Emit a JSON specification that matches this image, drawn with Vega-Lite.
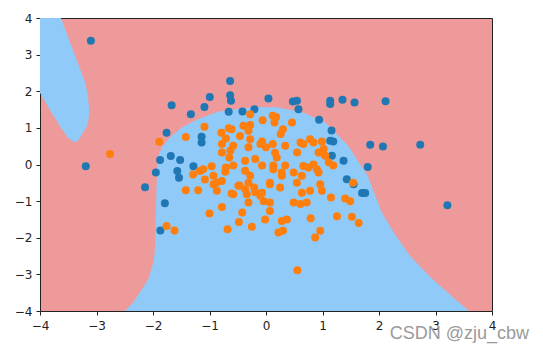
{
"$schema": "https://vega.github.io/schema/vega-lite/v6.json",
"width": 452,
"height": 293,
"autosize": {"type": "none"},
"padding": {"left": 40, "top": 18, "right": 51, "bottom": 40},
"background": "white",
"config": {
"view": {"fill": "#EF9A9A", "stroke": "#222", "strokeWidth": 1},
"axis": {"title": null, "grid": false, "domain": false, "format": "d", "labelOverlap": false, "tickColor": "#222", "tickSize": 4, "labelFont": "DejaVu Sans", "labelFontSize": 12, "labelColor": "#222", "labelFlush": false},
"axisX": {"labelPadding": 5},
"axisY": {"labelPadding": 4}
},
"title": {"text": "CSDN @zju_cbw", "orient": "bottom", "anchor": "end", "frame": "group", "color": "#9a9a9a", "fontSize": 18, "fontWeight": "normal", "font": "Liberation Sans", "dx": 37, "dy": -10},
"datasets": {
"central": [
{"x": -2.5, "yhi": -4}, {"x": -2.35, "yhi": -3.77}, {"x": -2.2, "yhi": -3.41}, {"x": -2.08, "yhi": -3.12},
{"x": -1.99, "yhi": -2.67}, {"x": -1.97, "yhi": -2.4}, {"x": -1.96, "yhi": -2.0}, {"x": -1.94, "yhi": -0.8},
{"x": -1.92, "yhi": 0.2}, {"x": -1.84, "yhi": 0.47}, {"x": -1.7, "yhi": 0.74}, {"x": -1.49, "yhi": 1.01},
{"x": -1.2, "yhi": 1.24}, {"x": -0.84, "yhi": 1.45}, {"x": -0.63, "yhi": 1.49}, {"x": -0.22, "yhi": 1.57},
{"x": 0.19, "yhi": 1.56}, {"x": 0.66, "yhi": 1.42}, {"x": 1.05, "yhi": 1.15}, {"x": 1.25, "yhi": 0.83},
{"x": 1.46, "yhi": 0.5}, {"x": 1.64, "yhi": 0.06}, {"x": 1.8, "yhi": -0.3}, {"x": 1.92, "yhi": -0.8},
{"x": 2.05, "yhi": -1.31}, {"x": 2.26, "yhi": -1.86}, {"x": 2.55, "yhi": -2.5}, {"x": 2.91, "yhi": -3.08},
{"x": 3.38, "yhi": -3.72}, {"x": 3.59, "yhi": -4}
],
"ellipse": [
{"x": -4, "ylo": 1.96, "yhi": 4}, {"x": -3.9, "ylo": 1.69, "yhi": 4}, {"x": -3.8, "ylo": 1.42, "yhi": 4},
{"x": -3.7, "ylo": 1.18, "yhi": 4}, {"x": -3.63, "ylo": 1.0, "yhi": 4}, {"x": -3.6, "ylo": 0.94, "yhi": 3.88},
{"x": -3.5, "ylo": 0.72, "yhi": 3.47}, {"x": -3.4, "ylo": 0.62, "yhi": 3.06}, {"x": -3.36, "ylo": 0.61, "yhi": 2.9},
{"x": -3.3, "ylo": 0.71, "yhi": 2.65}, {"x": -3.2, "ylo": 0.97, "yhi": 2.23}, {"x": -3.15, "ylo": 1.12, "yhi": 1.85},
{"x": -3.13, "ylo": 1.41, "yhi": 1.5}
],
"pts": [
{"x": -3.10, "y": 3.38, "c": "A"}, {"x": -3.19, "y": -0.05, "c": "A"}, {"x": -2.14, "y": -0.62, "c": "A"},
{"x": -1.95, "y": -0.22, "c": "A"}, {"x": -1.79, "y": -1.06, "c": "A"}, {"x": -1.87, "y": -1.80, "c": "A"},
{"x": -1.875, "y": 0.12, "c": "A"}, {"x": -1.685, "y": 0.23, "c": "A"}, {"x": -1.52, "y": 0.12, "c": "A"},
{"x": -1.57, "y": -0.18, "c": "A"}, {"x": -1.54, "y": -0.36, "c": "A"}, {"x": -1.285, "y": -0.05, "c": "A"},
{"x": -1.14, "y": 0.76, "c": "A"}, {"x": -1.14, "y": 0.6, "c": "A"}, {"x": -1.67, "y": 1.62, "c": "A"},
{"x": -1.33, "y": 1.37, "c": "A"}, {"x": -1.09, "y": 1.57, "c": "A"}, {"x": -0.995, "y": 1.84, "c": "A"},
{"x": -0.635, "y": 2.28, "c": "A"}, {"x": -0.635, "y": 1.89, "c": "A"}, {"x": -0.62, "y": 1.74, "c": "A"},
{"x": -0.66, "y": 1.44, "c": "A"}, {"x": -1.76, "y": 0.87, "c": "A"}, {"x": 0.043, "y": 1.80, "c": "A"},
{"x": 0.475, "y": 1.72, "c": "A"}, {"x": 0.547, "y": 1.74, "c": "A"}, {"x": 0.575, "y": 1.51, "c": "A"},
{"x": -0.417, "y": 1.45, "c": "A"}, {"x": -0.205, "y": 1.51, "c": "A"}, {"x": 0.94, "y": 1.22, "c": "A"},
{"x": 1.136, "y": 1.74, "c": "A"}, {"x": 1.136, "y": 1.65, "c": "A"}, {"x": 1.354, "y": 1.77, "c": "A"},
{"x": 1.567, "y": 1.69, "c": "A"}, {"x": 2.116, "y": 1.73, "c": "A"}, {"x": 1.16, "y": 0.93, "c": "A"},
{"x": 1.136, "y": 0.65, "c": "A"}, {"x": 1.19, "y": 0.63, "c": "A"}, {"x": 1.845, "y": 0.54, "c": "A"},
{"x": 2.07, "y": 0.49, "c": "A"}, {"x": 2.73, "y": 0.54, "c": "A"}, {"x": 1.166, "y": 0.24, "c": "A"},
{"x": 1.372, "y": 0.10, "c": "A"}, {"x": 1.80, "y": -0.07, "c": "A"}, {"x": 1.43, "y": -0.40, "c": "A"},
{"x": 1.70, "y": -0.78, "c": "A"}, {"x": 1.756, "y": -0.78, "c": "A"}, {"x": 1.55, "y": -0.54, "c": "A"},
{"x": 3.21, "y": -1.11, "c": "A"},
{"x": -2.76, "y": 0.29, "c": "B"}, {"x": -1.89, "y": 0.62, "c": "B"}, {"x": -1.42, "y": 0.75, "c": "B"},
{"x": -1.09, "y": 1.03, "c": "B"}, {"x": -0.28, "y": 1.37, "c": "B"}, {"x": -1.42, "y": -0.70, "c": "B"},
{"x": -1.76, "y": -1.68, "c": "B"}, {"x": -1.62, "y": -1.80, "c": "B"}, {"x": -1.0, "y": -1.34, "c": "B"},
{"x": -0.78, "y": -1.16, "c": "B"}, {"x": -0.68, "y": -1.77, "c": "B"}, {"x": -0.48, "y": -1.57, "c": "B"},
{"x": -0.42, "y": -1.31, "c": "B"}, {"x": -0.25, "y": -1.70, "c": "B"}, {"x": -0.015, "y": -1.50, "c": "B"},
{"x": 0.22, "y": -1.86, "c": "B"}, {"x": -1.2, "y": -0.70, "c": "B"}, {"x": -1.08, "y": -0.41, "c": "B"},
{"x": -1.29, "y": -0.27, "c": "B"}, {"x": -0.87, "y": -0.72, "c": "B"}, {"x": -0.93, "y": -0.54, "c": "B"},
{"x": -0.78, "y": -0.45, "c": "B"}, {"x": -0.61, "y": -0.79, "c": "B"}, {"x": -0.47, "y": -0.57, "c": "B"},
{"x": -0.34, "y": -0.81, "c": "B"}, {"x": -0.31, "y": -1.04, "c": "B"}, {"x": -0.21, "y": -0.63, "c": "B"},
{"x": -0.07, "y": -0.77, "c": "B"}, {"x": -0.04, "y": -1.0, "c": "B"}, {"x": 0.07, "y": -1.27, "c": "B"},
{"x": 0.07, "y": -0.50, "c": "B"}, {"x": -1.17, "y": -0.18, "c": "B"}, {"x": -0.31, "y": -0.50, "c": "B"},
{"x": 0.25, "y": -0.63, "c": "B"}, {"x": 0.07, "y": -1.04, "c": "B"}, {"x": 0.28, "y": -1.54, "c": "B"},
{"x": 0.37, "y": -1.50, "c": "B"}, {"x": 0.30, "y": -1.81, "c": "B"}, {"x": 0.49, "y": -1.04, "c": "B"},
{"x": 0.547, "y": -0.50, "c": "B"}, {"x": 0.635, "y": -0.77, "c": "B"}, {"x": 0.72, "y": -1.04, "c": "B"},
{"x": 0.78, "y": -0.72, "c": "B"}, {"x": 0.96, "y": -0.54, "c": "B"}, {"x": 0.99, "y": -0.72, "c": "B"},
{"x": 1.15, "y": -0.90, "c": "B"}, {"x": 0.79, "y": -1.47, "c": "B"}, {"x": 1.255, "y": -1.41, "c": "B"},
{"x": 1.40, "y": -0.93, "c": "B"}, {"x": 1.49, "y": -1.0, "c": "B"}, {"x": 1.52, "y": -1.43, "c": "B"},
{"x": 1.64, "y": -1.60, "c": "B"}, {"x": 0.96, "y": -1.81, "c": "B"}, {"x": 0.87, "y": -1.99, "c": "B"},
{"x": 1.54, "y": -0.50, "c": "B"}, {"x": 0.555, "y": -2.89, "c": "B"}, {"x": 1.02, "y": 0.42, "c": "B"},
{"x": 1.05, "y": 0.24, "c": "B"}, {"x": 1.11, "y": 0.06, "c": "B"}, {"x": 1.19, "y": -0.03, "c": "B"},
{"x": 0.96, "y": 0.33, "c": "B"}, {"x": -0.06, "y": 1.21, "c": "B"}, {"x": 0.12, "y": 1.33, "c": "B"},
{"x": 0.18, "y": 1.30, "c": "B"}, {"x": 0.15, "y": 1.15, "c": "B"}, {"x": 0.46, "y": 1.15, "c": "B"},
{"x": 0.30, "y": 0.96, "c": "B"}, {"x": 0.26, "y": 0.83, "c": "B"}, {"x": -0.40, "y": 1.06, "c": "B"},
{"x": -0.28, "y": 1.08, "c": "B"}, {"x": -0.31, "y": 0.92, "c": "B"}, {"x": -0.46, "y": 0.78, "c": "B"},
{"x": -0.61, "y": 0.96, "c": "B"}, {"x": -0.28, "y": 0.69, "c": "B"}, {"x": -0.07, "y": 0.63, "c": "B"},
{"x": 0.61, "y": 0.60, "c": "B"}, {"x": 0.78, "y": 0.69, "c": "B"}, {"x": 0.84, "y": 0.60, "c": "B"},
{"x": 0.99, "y": 0.63, "c": "B"}, {"x": -0.79, "y": 0.87, "c": "B"}, {"x": -0.66, "y": 0.99, "c": "B"},
{"x": -0.71, "y": 0.71, "c": "B"}, {"x": -0.78, "y": 0.56, "c": "B"}, {"x": -0.78, "y": 0.33, "c": "B"},
{"x": -0.63, "y": 0.38, "c": "B"}, {"x": -0.65, "y": 0.19, "c": "B"}, {"x": -1.11, "y": -0.13, "c": "B"},
{"x": -0.96, "y": -0.05, "c": "B"}, {"x": -0.93, "y": -0.31, "c": "B"}, {"x": -0.87, "y": -0.49, "c": "B"},
{"x": -0.72, "y": -0.20, "c": "B"}, {"x": -0.71, "y": -0.08, "c": "B"}, {"x": -0.58, "y": 0.51, "c": "B"},
{"x": -0.31, "y": 0.47, "c": "B"}, {"x": -0.10, "y": 0.56, "c": "B"}, {"x": 0.0, "y": 0.47, "c": "B"},
{"x": 0.12, "y": 0.56, "c": "B"}, {"x": 0.34, "y": 0.51, "c": "B"}, {"x": 0.55, "y": 0.33, "c": "B"},
{"x": 0.66, "y": 0.56, "c": "B"}, {"x": 0.93, "y": 0.33, "c": "B"}, {"x": -0.19, "y": 0.15, "c": "B"},
{"x": -0.37, "y": 0.10, "c": "B"}, {"x": -0.07, "y": -0.03, "c": "B"}, {"x": 0.13, "y": -0.03, "c": "B"},
{"x": 0.34, "y": -0.03, "c": "B"}, {"x": 0.19, "y": 0.19, "c": "B"}, {"x": -0.58, "y": -0.03, "c": "B"},
{"x": 0.75, "y": -0.08, "c": "B"}, {"x": 0.90, "y": -0.13, "c": "B"}, {"x": 0.635, "y": -0.31, "c": "B"},
{"x": -0.37, "y": -0.17, "c": "B"}, {"x": -0.28, "y": -0.31, "c": "B"}, {"x": 0.28, "y": -0.31, "c": "B"},
{"x": 0.07, "y": -0.54, "c": "B"}, {"x": -0.49, "y": -0.58, "c": "B"}, {"x": -0.37, "y": -0.67, "c": "B"},
{"x": -0.58, "y": -0.81, "c": "B"}, {"x": -0.19, "y": -0.76, "c": "B"}, {"x": -0.10, "y": -0.85, "c": "B"},
{"x": 0.61, "y": -1.08, "c": "B"}, {"x": 0.16, "y": 0.32, "c": "B"}, {"x": 0.66, "y": -0.04, "c": "B"},
{"x": 0.84, "y": 0.0, "c": "B"}, {"x": 0.13, "y": -0.13, "c": "B"}, {"x": 0.28, "y": -0.22, "c": "B"},
{"x": 0.93, "y": -0.22, "c": "B"}, {"x": 0.49, "y": -0.22, "c": "B"}
]
},
"layer": [
{
"data": {"name": "central"},
"mark": {"type": "area", "color": "#90CAF9", "opacity": 1, "clip": true},
"encoding": {
"x": {"field": "x", "type": "quantitative", "scale": {"domain": [-4, 4], "nice": false, "zero": false}, "axis": {"values": [-4, -3, -2, -1, 0, 1, 2, 3, 4]}},
"y": {"field": "yhi", "type": "quantitative", "scale": {"domain": [-4, 4], "nice": false, "zero": false}, "axis": {"values": [-4, -3, -2, -1, 0, 1, 2, 3, 4]}},
"y2": {"datum": -4}
}
},
{
"data": {"name": "ellipse"},
"mark": {"type": "area", "color": "#90CAF9", "opacity": 1, "clip": true},
"encoding": {
"x": {"field": "x", "type": "quantitative", "axis": {"values": [-4, -3, -2, -1, 0, 1, 2, 3, 4]}},
"y": {"field": "yhi", "type": "quantitative", "axis": {"values": [-4, -3, -2, -1, 0, 1, 2, 3, 4]}},
"y2": {"field": "ylo"}
}
},
{
"data": {"name": "pts"},
"mark": {"type": "circle", "size": 64, "opacity": 1},
"encoding": {
"x": {"field": "x", "type": "quantitative", "axis": {"values": [-4, -3, -2, -1, 0, 1, 2, 3, 4]}},
"y": {"field": "y", "type": "quantitative", "axis": {"values": [-4, -3, -2, -1, 0, 1, 2, 3, 4]}},
"color": {"field": "c", "type": "nominal", "scale": {"domain": ["A", "B"], "range": ["#1f77b4", "#ff7f0e"]}, "legend": null}
}
}
]
}
